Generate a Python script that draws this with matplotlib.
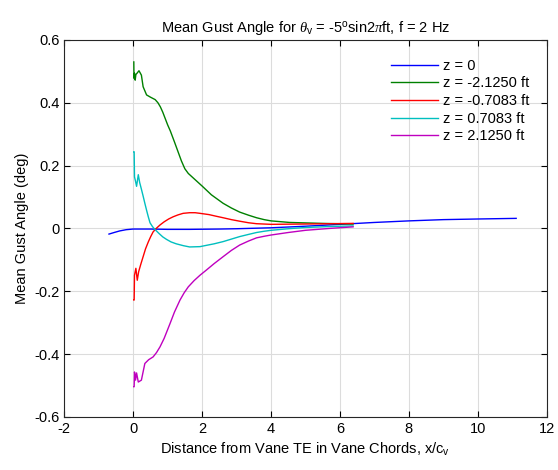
import matplotlib
matplotlib.use("Agg")
import matplotlib.pyplot as plt

plt.rcParams["font.family"] = ["Liberation Sans", "DejaVu Sans"]
plt.rcParams["mathtext.fontset"] = "custom"
plt.rcParams["mathtext.rm"] = "Liberation Sans"
plt.rcParams["mathtext.it"] = "Liberation Serif:italic"
plt.rcParams["axes.unicode_minus"] = False

# z = 0
x_b = [-0.70, -0.55, -0.39, -0.2, 0.0, 0.5, 1.0, 1.64, 2.5, 3.0, 4.0, 5.0, 6.0, 7.0, 8.0, 9.0, 10.0, 11.11]
y_b = [-0.018, -0.013, -0.008, -0.004, -0.002, -0.002, -0.003, -0.003, -0.002, -0.001, 0.002, 0.007, 0.013, 0.019,
       0.024, 0.028, 0.030, 0.032]

# z = -2.1250 ft
x_g = [0.02, 0.025, 0.04, 0.06, 0.08, 0.12, 0.17, 0.24, 0.29, 0.39, 0.5, 0.64, 0.72, 0.79, 0.86, 0.93, 1.0,
       1.08, 1.2, 1.3, 1.4, 1.5, 1.6, 1.7, 1.85, 2.0, 2.27, 2.61, 2.85, 3.09, 3.35, 3.58, 3.8, 4.0, 4.54,
       5.5, 6.38]
y_g = [0.530, 0.478, 0.494, 0.472, 0.49, 0.495, 0.502, 0.488, 0.451, 0.425, 0.418, 0.41, 0.40, 0.387, 0.37,
       0.35, 0.33, 0.31, 0.275, 0.245, 0.215, 0.19, 0.175, 0.165, 0.15, 0.135, 0.107, 0.08, 0.065, 0.052,
       0.042, 0.034, 0.028, 0.024, 0.019, 0.016, 0.014]

# z = -0.7083 ft
x_r = [0.02, 0.03, 0.04, 0.08, 0.12, 0.16, 0.22, 0.29, 0.36, 0.44, 0.51, 0.58, 0.68, 0.78, 0.9, 1.03,
       1.16, 1.3, 1.45, 1.64, 1.8, 1.94, 2.2, 2.4, 2.61, 2.85, 3.09, 3.35, 3.58, 4.0, 5.0, 6.38]
y_r = [-0.228, -0.228, -0.149, -0.127, -0.165, -0.138, -0.115, -0.09, -0.065, -0.043, -0.026, -0.011, 0.001,
       0.011, 0.021, 0.03, 0.037, 0.043, 0.048, 0.05, 0.05, 0.048, 0.044, 0.039, 0.034, 0.028, 0.023, 0.018,
       0.015, 0.013, 0.014, 0.016]

# z = 0.7083 ft
x_c = [0.02, 0.03, 0.04, 0.07, 0.10, 0.15, 0.19, 0.24, 0.29, 0.34, 0.39, 0.44, 0.49, 0.56, 0.63, 0.75,
       0.86, 0.97, 1.1, 1.25, 1.46, 1.64, 1.94, 2.12, 2.35, 2.61, 2.85, 3.09, 3.35, 3.58, 3.8, 4.0, 4.5,
       5.0, 5.7, 6.38]
y_c = [0.244, 0.244, 0.164, 0.15, 0.134, 0.171, 0.146, 0.125, 0.103, 0.08, 0.058, 0.037, 0.018, 0.006,
       -0.003, -0.016, -0.027, -0.035, -0.043, -0.049, -0.055, -0.059, -0.058, -0.054, -0.049, -0.042,
       -0.034, -0.026, -0.019, -0.013, -0.009, -0.006, -0.001, 0.003, 0.006, 0.008]

# z = 2.1250 ft
x_m = [0.02, 0.03, 0.04, 0.07, 0.10, 0.15, 0.24, 0.34, 0.45, 0.58, 0.68, 0.78, 0.9, 1.07, 1.2, 1.36,
       1.48, 1.6, 1.77, 1.94, 2.12, 2.35, 2.61, 2.85, 3.09, 3.35, 3.58, 3.8, 4.0, 4.5, 5.0, 5.7, 6.38]
y_m = [-0.504, -0.504, -0.457, -0.483, -0.46, -0.489, -0.483, -0.43, -0.418, -0.409, -0.395, -0.377,
       -0.35, -0.303, -0.266, -0.228, -0.205, -0.186, -0.166, -0.149, -0.133, -0.112, -0.09, -0.07,
       -0.053, -0.04, -0.03, -0.025, -0.021, -0.013, -0.006, 0.0, 0.005]

labels = ["z = 0", "z = -2.1250 ft", "z = -0.7083 ft", "z = 0.7083 ft", "z = 2.1250 ft"]

fig = plt.figure(figsize=(5.58, 4.70), dpi=100)
ax = fig.add_axes([0.115, 0.113, 0.865, 0.802])

ax.plot(x_b, y_b, color=(0, 0, 1), lw=1.0, label=labels[0])
ax.plot(x_g, y_g, color=(0, 0.5, 0), lw=1.0, label=labels[1])
ax.plot(x_r, y_r, color=(1, 0, 0), lw=1.0, label=labels[2])
ax.plot(x_c, y_c, color=(0, 0.75, 0.75), lw=1.0, label=labels[3])
ax.plot(x_m, y_m, color=(0.75, 0, 0.75), lw=1.0, label=labels[4])

ax.set_xlim(-2, 12)
ax.set_ylim(-0.6, 0.6)
ax.set_xticks(range(-2, 13, 2))
ax.set_yticks([-0.6, -0.4, -0.2, 0, 0.2, 0.4, 0.6])
ax.set_yticklabels(["-0.6", "-0.4", "-0.2", "0", "0.2", "0.4", "0.6"])
ax.grid(True, color="#dcdcdc", lw=0.8)
ax.set_axisbelow(True)
ax.tick_params(direction="in", top=True, right=True, length=4, labelsize=10.5, width=0.8)
for s in ax.spines.values():
    s.set_linewidth(0.8)
    s.set_color("#262626")

ax.set_title(r"Mean Gust Angle for $\theta_{\rm v}$ = -5$^{\rm o}$sin2$\pi$ft, f = 2 Hz", fontsize=10.5)
ax.set_xlabel(r"Distance from Vane TE in Vane Chords, x/c$_{\rm v}$", fontsize=10.5)
ax.set_ylabel("Mean Gust Angle (deg)", fontsize=10.5)

ax.legend(loc="upper right", bbox_to_anchor=(0.99, 0.985), frameon=False, fontsize=10.5,
          handlelength=3.2, handletextpad=0.3, labelspacing=0.25)

fig.savefig("out.png", dpi=100)
